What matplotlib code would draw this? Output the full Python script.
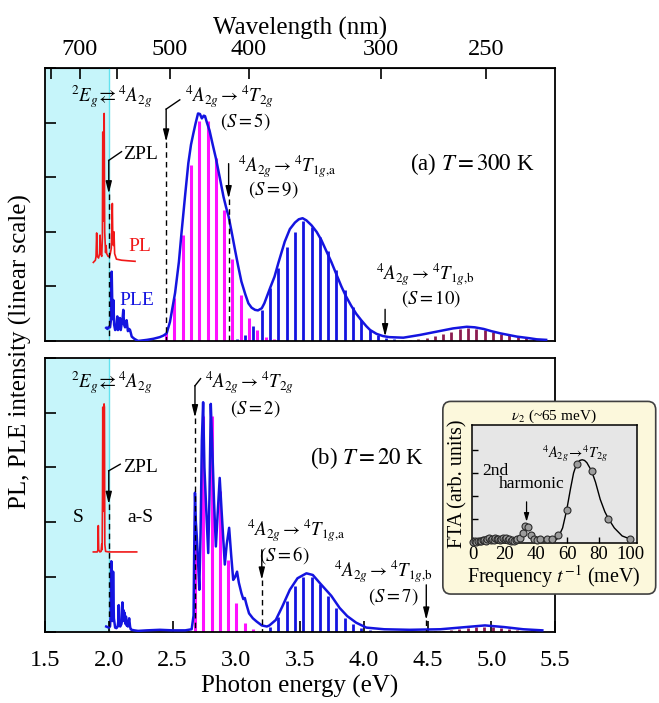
import numpy as np
import matplotlib.pyplot as plt
from matplotlib.patches import FancyBboxPatch

plt.rcParams['font.family'] = ['Liberation Serif', 'DejaVu Serif']
plt.rcParams['mathtext.fontset'] = 'stix'

RED = '#f01818'
BLUE = '#1414e0'
MAGENTA = '#ff10ff'
MAROON = '#8c1c50'
CYAN = '#c6f5fa'

# ---------------- (a) T = 300 K ----------------
pl_a_ev = [1.879, 1.895, 1.900, 1.905, 1.910, 1.920, 1.928, 1.932, 1.937, 1.945, 1.950,
           1.953, 1.958, 1.961, 1.964, 1.968, 1.975, 1.979, 1.984, 1.995, 2.005, 2.012,
           2.020, 2.025, 2.028, 2.032, 2.037, 2.041, 2.046, 2.060, 2.100, 2.150, 2.206]
pl_a_int = [1.44, 1.48, 1.55, 1.98, 1.55, 1.52, 1.60, 1.94, 1.60, 1.55, 1.90,
            3.83, 2.20, 2.60, 4.17, 2.00, 1.62, 1.75, 1.60, 1.55, 1.55, 1.60,
            1.70, 2.20, 2.52, 1.80, 1.75, 2.00, 1.60, 1.50, 1.48, 1.47, 1.46]

ple_a_ev = [1.980, 1.990, 2.000, 2.010, 2.018, 2.023, 2.028, 2.033, 2.036, 2.042, 2.050,
            2.058, 2.063, 2.067, 2.072, 2.080, 2.088, 2.094, 2.100, 2.108, 2.114, 2.120,
            2.128, 2.140, 2.150, 2.160, 2.167, 2.180, 2.200, 2.230, 2.300, 2.350, 2.400,
            2.430, 2.454, 2.480, 2.520, 2.550, 2.570, 2.600, 2.624, 2.645, 2.663, 2.680,
            2.700, 2.715, 2.730, 2.745, 2.755, 2.770, 2.790, 2.815, 2.840, 2.870, 2.900,
            2.920, 2.940, 2.965, 2.990, 3.015, 3.040, 3.070, 3.095, 3.120, 3.147, 3.170,
            3.200, 3.220, 3.265, 3.300, 3.330, 3.380, 3.420, 3.460, 3.490, 3.520, 3.550,
            3.590, 3.630, 3.667, 3.700, 3.745, 3.780, 3.824, 3.860, 3.900, 3.940, 3.980,
            4.020, 4.050, 4.100, 4.150, 4.200, 4.310, 4.440, 4.570, 4.700, 4.807, 4.870,
            4.940, 5.000, 5.070, 5.200, 5.300, 5.356, 5.430]
ple_a_int = [0.24, 0.22, 0.26, 0.25, 0.40, 1.27, 0.60, 0.40, 0.75, 0.30, 0.20,
             0.22, 0.35, 0.45, 0.20, 0.25, 0.42, 0.20, 0.30, 0.40, 0.57, 0.30,
             0.25, 0.38, 0.18, 0.22, 0.20, 0.08, 0.04, 0.00, 0.02, 0.04, 0.07,
             0.10, 0.14, 0.35, 0.88, 1.45, 1.97, 2.70, 3.26, 3.60, 3.80, 3.98,
             4.17, 4.16, 4.08, 4.13, 4.12, 4.00, 3.86, 3.60, 3.35, 3.00, 2.64,
             2.45, 2.28, 1.98, 1.67, 1.37, 1.09, 0.86, 0.69, 0.61, 0.57, 0.56,
             0.60, 0.69, 0.97, 1.18, 1.43, 1.82, 2.05, 2.17, 2.23, 2.25, 2.21,
             2.12, 2.00, 1.85, 1.68, 1.45, 1.25, 1.00, 0.82, 0.65, 0.50, 0.38,
             0.27, 0.20, 0.13, 0.09, 0.07, 0.06, 0.11, 0.17, 0.23, 0.26, 0.25,
             0.22, 0.18, 0.14, 0.08, 0.05, 0.03, 0.02]

t2g_a_ev = [2.450, 2.515, 2.580, 2.645, 2.710, 2.775, 2.840, 2.905, 2.970, 3.035,
            3.100, 3.165, 3.230, 3.295]
t2g_a_h = [0.15, 0.78, 1.94, 3.22, 4.03, 4.03, 3.35, 2.40, 1.50, 0.84,
           0.42, 0.20, 0.08, 0.04]

t1ga_a_ev = [3.005, 3.070, 3.135, 3.200, 3.265, 3.330, 3.395, 3.460, 3.525, 3.590,
             3.655, 3.720, 3.785, 3.850, 3.915, 3.980, 4.045, 4.110, 4.175, 4.240]
t1ga_a_h = [0.03, 0.11, 0.27, 0.57, 0.97, 1.33, 1.73, 2.00, 2.19, 2.09,
            1.91, 1.64, 1.30, 0.93, 0.63, 0.38, 0.20, 0.11, 0.06, 0.03]

t1gb_a_ev = [4.167, 4.232, 4.297, 4.362, 4.427, 4.492, 4.557, 4.622, 4.687, 4.752,
             4.817, 4.882, 4.947, 5.012, 5.077, 5.142, 5.207, 5.272, 5.337, 5.402, 5.467]
t1gb_a_h = [0.00, 0.00, 0.01, 0.02, 0.03, 0.06, 0.09, 0.13, 0.17, 0.21,
            0.23, 0.22, 0.20, 0.17, 0.13, 0.10, 0.07, 0.05, 0.03, 0.02, 0.01]

# ---------------- (b) T = 20 K ----------------
pl_b_ev = [1.879, 1.910, 1.915, 1.918, 1.921, 1.930, 1.940, 1.945, 1.948, 1.951,
           1.953, 1.956, 1.960, 1.963, 1.966, 1.969, 1.975, 2.000, 2.100, 2.219]
pl_b_int = [1.46, 1.46, 1.50, 1.94, 1.50, 1.46, 1.47, 1.60, 1.50, 2.50,
            4.10, 2.20, 2.50, 4.16, 4.10, 1.60, 1.47, 1.46, 1.46, 1.46]

ple_b_ev = [1.980, 2.000, 2.010, 2.015, 2.020, 2.025, 2.030, 2.034, 2.040, 2.050,
            2.060, 2.070, 2.075, 2.078, 2.082, 2.090, 2.100, 2.104, 2.107, 2.110,
            2.115, 2.120, 2.125, 2.130, 2.135, 2.140, 2.145, 2.150, 2.160, 2.167,
            2.172, 2.180, 2.200, 2.230, 2.300, 2.400, 2.500, 2.600, 2.650, 2.665,
            2.670, 2.676, 2.683, 2.690, 2.700, 2.710, 2.720, 2.730, 2.740, 2.750,
            2.765, 2.780, 2.790, 2.800, 2.810, 2.825, 2.840, 2.855, 2.870, 2.885,
            2.910, 2.925, 2.944, 2.960, 2.976, 2.990, 3.006, 3.020, 3.040, 3.055,
            3.067, 3.080, 3.100, 3.130, 3.160, 3.200, 3.240, 3.260, 3.280, 3.310,
            3.360, 3.420, 3.480, 3.550, 3.600, 3.660, 3.745, 3.810, 3.870, 3.940,
            4.020, 4.160, 4.360, 4.600, 4.800, 4.950, 5.100, 5.250, 5.400]
ple_b_int = [0.10, 0.08, 0.10, 0.30, 1.29, 0.30, 0.20, 1.10, 0.25, 0.08,
             0.07, 0.10, 0.20, 0.49, 0.15, 0.10, 0.15, 0.45, 0.54, 0.20,
             0.40, 0.20, 0.35, 0.15, 0.28, 0.12, 0.20, 0.10, 0.25, 0.10,
             0.05, 0.04, 0.03, 0.02, 0.03, 0.04, 0.03, 0.03, 0.05, 0.30,
             1.50, 2.54, 2.00, 1.75, 1.30, 0.77, 1.80, 3.50, 4.19, 3.00,
             2.20, 1.44, 2.50, 4.16, 3.50, 2.40, 1.56, 2.20, 2.81, 2.20,
             1.23, 1.60, 1.90, 1.40, 0.95, 1.00, 1.10, 0.90, 0.71, 0.60,
             0.62, 0.50, 0.34, 0.25, 0.19, 0.12, 0.10, 0.12, 0.16, 0.22,
             0.46, 0.77, 0.98, 1.07, 1.04, 0.88, 0.66, 0.44, 0.29, 0.17,
             0.08, 0.05, 0.04, 0.05, 0.09, 0.12, 0.09, 0.05, 0.03]

t2g_b_ev = [2.676, 2.741, 2.806, 2.871, 2.936, 3.001, 3.066, 3.131]
t2g_b_h = [1.99, 3.94, 3.94, 2.57, 1.32, 0.53, 0.17, 0.05]

t1ga_b_ev = [3.265, 3.330, 3.395, 3.460, 3.525, 3.590, 3.655, 3.720, 3.785, 3.850,
             3.915, 3.980, 4.045, 4.110]
t1ga_b_h = [0.09, 0.28, 0.56, 0.84, 1.01, 1.01, 0.87, 0.65, 0.43, 0.26,
            0.14, 0.07, 0.03, 0.01]

t1gb_b_ev = [4.490, 4.555, 4.620, 4.685, 4.750, 4.815, 4.880, 4.945, 5.010, 5.075,
             5.140, 5.205, 5.270, 5.335, 5.400, 5.465]
t1gb_b_h = [0.00, 0.01, 0.02, 0.04, 0.06, 0.08, 0.10, 0.10, 0.09, 0.07,
            0.05, 0.03, 0.02, 0.01, 0.01, 0.01]

# ---------------- inset: Fourier transform amplitude ----------------
fta_freq = [0, 1, 2, 3, 4, 5, 6, 7, 8, 9, 10, 11, 12, 13, 14, 15, 16, 17, 18, 19,
            20, 21, 22, 23, 24, 25, 26, 27, 28, 29.8, 31.5, 33.0, 35.0, 36.6, 38.5,
            40.4, 42.6, 46.8, 50.5, 54.3, 59.6, 66.0, 75.5, 86.2, 100.0]
fta_amp = [0.00, 0.02, 0.00, 0.03, 0.05, 0.02, 0.06, 0.08, 0.05, 0.10, 0.14, 0.07,
           0.12, 0.09, 0.15, 0.10, 0.13, 0.08, 0.12, 0.16, 0.10, 0.14, 0.08, 0.11,
           0.05, 0.09, 0.03, 0.07, 0.10, 0.14, 0.36, 0.68, 0.62, 0.30, 0.10,
           0.07, 0.10, 0.12, 0.12, 0.29, 1.38, 3.41, 3.09, 1.01, 0.12]
fit_freq = [51, 54, 57, 59.6, 62, 64, 66, 68, 69.5, 71, 72.5, 75.5, 78, 81, 84, 86.2,
            90, 95, 100]
fit_amp = [0.0, 0.15, 0.6, 1.38, 2.3, 3.0, 3.41, 3.55, 3.58, 3.55, 3.45, 3.09,
           2.6, 1.85, 1.3, 1.01, 0.6, 0.25, 0.12]

wl_ticks = [800, 700, 600, 500, 400, 300, 250]
wl_labels = ['', '700', '', '500', '400', '300', '250']
ev_ticks = [1.5, 2.0, 2.5, 3.0, 3.5, 4.0, 4.5, 5.0, 5.5]

FS_TICK = 17.5
FS_LABEL = 18
FS_NOTE = 13.5


def ev_nm(v):
    v = np.asarray(v, dtype=float)
    with np.errstate(divide='ignore', invalid='ignore'):
        return 1239.84 / v


def arrow(ax, pts, dash_to_zero=True):
    # polyline ending in an arrow head, optionally continued as a dashed drop line
    xs = [p[0] for p in pts]
    ys = [p[1] for p in pts]
    if len(pts) > 2:
        ax.plot(xs[:-1], ys[:-1], color='k', lw=1.0, zorder=6)
    ax.annotate('', xy=pts[-1], xytext=pts[-2],
                arrowprops=dict(arrowstyle='-|>,head_length=0.6,head_width=0.15',
                                mutation_scale=12, color='k', lw=1.0,
                                shrinkA=0, shrinkB=0), zorder=6)
    if dash_to_zero:
        ax.plot([xs[-1], xs[-1]], [ys[-1], 0], color='k', lw=1.0,
                ls=(0, (4, 3)), zorder=6)


def note(ax, x, y, s, size=FS_NOTE, **kw):
    ax.text(x, y, s, fontsize=size, ha='center', va='center', zorder=7, **kw)


def style_main(ax):
    ax.set_xlim(1.5, 5.5)
    ax.set_ylim(0, 5)
    ax.set_yticks([0, 1, 2, 3, 4, 5])
    ax.set_yticklabels([])
    ax.tick_params(axis='y', direction='in', length=8, width=1.2, left=True, right=False)
    for s in ax.spines.values():
        s.set_linewidth(1.3)
    ax.axvspan(1.5, 2.0, color=CYAN, lw=0, zorder=0)
    ax.axvline(2.0, color='#62e2ef', lw=1.0, zorder=0.5)


T2G = r'$^{4}A_{2g}\rightarrow{}^{4}T_{2g}$'
T1GA = r'$^{4}A_{2g}\rightarrow{}^{4}T_{1g{,}\mathrm{a}}$'
T1GB = r'$^{4}A_{2g}\rightarrow{}^{4}T_{1g{,}\mathrm{b}}$'
EG = r'$^{2}E_{g}\!\rightleftarrows{}^{4}A_{2g}$'

fig = plt.figure(figsize=(6.59, 7.03), dpi=100)
ax1 = fig.add_axes([0.0683, 0.515, 0.774, 0.388])
ax2 = fig.add_axes([0.0683, 0.101, 0.774, 0.390])

# ----- panel (a) -----
style_main(ax1)
ax1.tick_params(axis='x', bottom=False, labelbottom=False)
ax1.vlines(t2g_a_ev, 0, t2g_a_h, color=MAGENTA, lw=2.2, zorder=2)
ax1.vlines(t1ga_a_ev, 0, t1ga_a_h, color=BLUE, lw=2.0, zorder=2)
ax1.vlines(t1gb_a_ev, 0, t1gb_a_h, color=MAROON, lw=2.0, zorder=2)
ax1.plot(pl_a_ev, pl_a_int, color=RED, lw=1.2, zorder=3)
ax1.plot(ple_a_ev, ple_a_int, color=BLUE, lw=1.8, zorder=3)

sec = ax1.secondary_xaxis('top', functions=(ev_nm, ev_nm))
sec.set_xticks(wl_ticks)
sec.set_xticklabels(wl_labels)
sec.tick_params(direction='in', length=8, width=1.2, labelsize=FS_TICK, pad=6)
sec.set_xlabel('Wavelength (nm)', fontsize=FS_LABEL, labelpad=3)

note(ax1, 2.02, 4.47, EG)
note(ax1, 2.95, 4.47, T2G)
note(ax1, 3.07, 4.02, r'$(S = 5)$')
note(ax1, 3.40, 3.19, T1GA)
note(ax1, 3.29, 2.77, r'$(S = 9)$')
note(ax1, 4.85, 3.25, r'(a) $T = 300$ K', size=16.5)
note(ax1, 4.48, 1.21, T1GB)
note(ax1, 4.53, 0.77, r'$(S = 10)$')
note(ax1, 2.25, 3.41, 'ZPL', size=14)
note(ax1, 2.245, 1.73, 'PL', size=14, color=RED)
note(ax1, 2.22, 0.75, 'PLE', size=14, color=BLUE)

arrow(ax1, [(2.10, 3.47), (2.0, 3.31), (2.0, 2.70)])
arrow(ax1, [(2.557, 4.42), (2.45, 4.25), (2.45, 3.65)])
arrow(ax1, [(2.94, 3.25), (2.94, 2.61)])
arrow(ax1, [(4.167, 0.58), (4.167, 0.08)], dash_to_zero=False)

# ----- panel (b) -----
style_main(ax2)
ax2.set_xticks(ev_ticks)
ax2.set_xticklabels([f'{t:.1f}' for t in ev_ticks])
ax2.tick_params(axis='x', direction='in', length=8, width=1.2, labelsize=FS_TICK,
                pad=13, top=False)
ax2.set_xlabel('Photon energy (eV)', fontsize=FS_LABEL, labelpad=3)
ax2.vlines(t2g_b_ev, 0, t2g_b_h, color=MAGENTA, lw=2.2, zorder=2)
ax2.vlines(t1ga_b_ev, 0, t1ga_b_h, color=BLUE, lw=2.0, zorder=2)
ax2.vlines(t1gb_b_ev, 0, t1gb_b_h, color=MAROON, lw=2.0, zorder=2)
ax2.plot(pl_b_ev, pl_b_int, color=RED, lw=1.2, zorder=3)
ax2.plot(ple_b_ev, ple_b_int, color=BLUE, lw=1.8, zorder=3)

note(ax2, 2.02, 4.55, EG)
note(ax2, 3.10, 4.55, T2G)
note(ax2, 3.15, 4.07, r'$(S = 2)$')
note(ax2, 4.03, 3.18, r'(b) $T = 20$ K', size=16.5)
note(ax2, 3.47, 1.84, T1GA)
note(ax2, 3.38, 1.41, r'$(S = 6)$')
note(ax2, 4.15, 1.10, T1GB)
note(ax2, 4.23, 0.65, r'$(S = 7)$')
note(ax2, 2.245, 3.0, 'ZPL', size=14)
note(ax2, 1.76, 2.08, 'S', size=14)
note(ax2, 2.245, 2.08, 'a-S', size=14)

arrow(ax2, [(2.09, 3.06), (2.0, 2.94), (2.0, 2.33)])
arrow(ax2, [(2.72, 4.62), (2.676, 4.49), (2.676, 3.91)])
arrow(ax2, [(3.2, 1.50), (3.2, 0.95)])
arrow(ax2, [(4.49, 0.86), (4.49, 0.22)])

fig.text(0.031, 0.5, 'PL, PLE intensity (linear scale)', rotation=90,
         fontsize=FS_LABEL, ha='center', va='center')

# ----- inset -----
box = FancyBboxPatch((0.672, 0.155), 0.323, 0.274,
                     boxstyle='round,pad=0,rounding_size=0.012',
                     transform=fig.transFigure, fc='#fcf8dc', ec='#404040',
                     lw=1.2, zorder=5)
fig.add_artist(box)

axin = fig.add_axes([0.7158, 0.2272, 0.2504, 0.1683], zorder=6)
axin.set_facecolor('#e6e6e6')
axin.plot(fit_freq, fit_amp, color='k', lw=1.0, zorder=2)
axin.plot(fta_freq, fta_amp, 'o', ms=5, mfc='#9c9c9c', mec='#2a2a2a', mew=0.8,
          zorder=3, clip_on=False)
axin.set_xlim(-1, 104.3)
axin.set_ylim(-0.07, 5.1)
axin.set_xticks([0, 20, 40, 60, 80, 100])
axin.set_yticks([1, 2, 3, 4])
axin.set_yticklabels([])
axin.tick_params(direction='in', length=4, width=1.0, labelsize=13.5, pad=2)
for s in axin.spines.values():
    s.set_linewidth(1.1)
axin.set_xlabel(r'Frequency $t^{-1}$ (meV)', fontsize=14.5, labelpad=0)
axin.set_ylabel('FTA (arb. units)', fontsize=14.5, labelpad=1)
axin.set_title(r'$\nu_2$ (~65 meV)', fontsize=11, pad=4)
axin.text(65, 3.84, r'$^{4}A_{2g}\!\rightarrow\!{}^{4}T_{2g}$', fontsize=10.5,
          ha='center', va='center')
axin.text(6, 3.09, '2nd', fontsize=12.5, ha='left', va='center')
axin.text(37, 2.54, 'harmonic', fontsize=12.5, ha='center', va='center')
axin.annotate('', xy=(34, 0.87), xytext=(34, 1.74),
              arrowprops=dict(arrowstyle='-|>,head_length=0.5,head_width=0.15',
                              mutation_scale=10, color='k', lw=0.9,
                              shrinkA=0, shrinkB=0))

fig.savefig('out.png', dpi=100)
